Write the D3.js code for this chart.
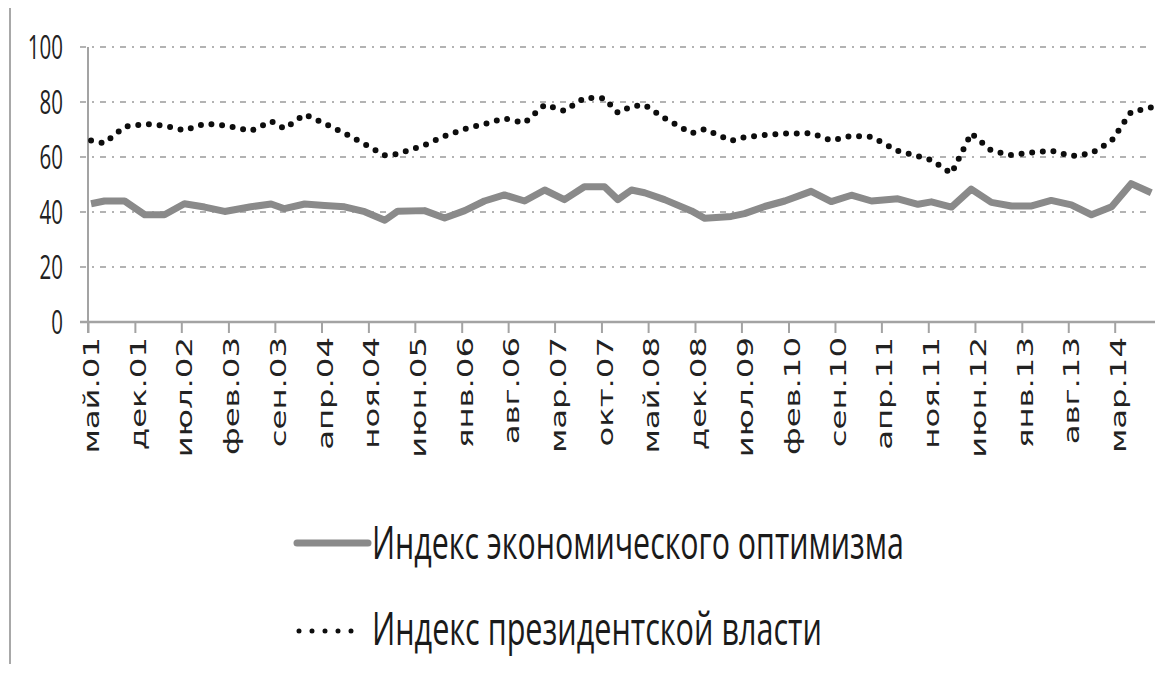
<!DOCTYPE html>
<html>
<head>
<meta charset="utf-8">
<script src="https://cdn.jsdelivr.net/npm/d3@7"></script>
<style>
  html, body { margin: 0; padding: 0; background: #ffffff; }
  svg { display: block; }
</style>
</head>
<body>
<svg id="chart" width="1169" height="675"></svg>
<script>
// ---- data ----
const dates = ["2001-05","2001-07","2001-10","2002-01","2002-04","2002-07","2002-10","2003-01","2003-05","2003-08",
  "2003-10","2004-01","2004-04","2004-07","2004-10","2005-01","2005-03","2005-07","2005-10","2006-01",
  "2006-04","2006-07","2006-10","2007-01","2007-04","2007-07","2007-10","2007-12","2008-02","2008-04",
  "2008-07","2008-11","2009-01","2009-05","2009-07","2009-10","2010-01","2010-05","2010-08","2010-11",
  "2011-02","2011-06","2011-09","2011-11","2012-02","2012-05","2012-08","2012-11","2013-02","2013-05",
  "2013-08","2013-11","2014-02","2014-05","2014-08"];
const econIndex = [43,44,44,39,39,43,41.8,40.2,41.9,42.9,
  41.2,42.9,42.4,41.9,40.1,37,40.3,40.5,37.8,40.5,
  44,46.2,44,48,44.5,49.2,49.2,44.5,48,47,
  44.5,40.4,37.7,38.4,39.4,42,44,47.5,43.8,46.1,
  44,44.8,42.8,43.7,41.8,48.3,43.5,42.2,42.2,44.2,
  42.6,39,41.9,50.3,47];
const presIndex = [66,65,71,72,71.4,69.7,72.1,71.5,69.5,73,
  70.3,75.5,72.2,68.6,64.7,60.6,61.1,64.3,67.6,70.2,
  72,74,72.4,79,76.8,81.5,81.3,76.1,78.4,78.9,
  74.1,68.6,70.1,65.9,67.2,68,68.5,68.7,66,67.7,
  67.3,62.2,60.3,58.9,54,68.6,62.3,60.7,61.6,62.3,
  60.3,61.3,65.9,76.4,78];
const yTicks = [0,20,40,60,80,100];
const xTickLabels = ["май.01","дек.01","июл.02","фев.03","сен.03","апр.04","ноя.04","июн.05","янв.06","авг.06",
  "мар.07","окт.07","май.08","дек.08","июл.09","фев.10","сен.10","апр.11","ноя.11","июн.12",
  "янв.13","авг.13","мар.14"];
const seriesNames = ["Индекс экономического оптимизма","Индекс президентской власти"];
const xStart = "2001-05", xEnd = "2014-09", tickStepMonths = 7;

// ---- setup ----
const svg = d3.select("#chart");
const parseMonth = d3.timeParse("%Y-%m");
const mid = s => d3.timeDay.offset(parseMonth(s), 14);

const x = d3.scaleTime().domain([parseMonth(xStart), parseMonth(xEnd)]).range([88, 1155]);
const y = d3.scaleLinear().domain([0, 100]).range([322, 47]);

const gridColor = "#b3b3b3", axisColor = "#a3a3a3";

// frame line on the left
svg.append("line").attr("x1", 10).attr("x2", 10).attr("y1", 8).attr("y2", 664)
  .attr("stroke", "#a8a8a8").attr("stroke-width", 2);

// gridlines (dash-dot)
svg.append("g").selectAll("line").data(yTicks.filter(v => v > 0)).join("line")
  .attr("x1", 80).attr("x2", 1152)
  .attr("y1", d => y(d)).attr("y2", d => y(d))
  .attr("stroke", gridColor).attr("stroke-width", 2)
  .attr("stroke-dasharray", "6 6 2 6");

// y axis
const yAxis = svg.append("g").attr("transform", "translate(88,0)")
  .call(d3.axisLeft(y).tickValues(yTicks).tickSize(0).tickFormat(d3.format("d")));
yAxis.select(".domain").remove();
yAxis.append("line").attr("x1", 0).attr("x2", 0).attr("y1", y(100)).attr("y2", 333)
  .attr("stroke", axisColor).attr("stroke-width", 2);
yAxis.selectAll(".tick text")
  .attr("x", 0).attr("dy", "0.36em")
  .attr("transform", "translate(-25,0) scale(0.64,1)")
  .attr("text-anchor", "end")
  .attr("fill", "#222")
  .style("font-family", "'Open Sans', 'Noto Sans', sans-serif")
  .style("font-size", "32px");

// x axis
const tickDates = xTickLabels.map((l, i) => d3.timeMonth.offset(parseMonth(xStart), i * tickStepMonths));
const xAxis = svg.append("g").attr("transform", `translate(0,${y(0)})`)
  .call(d3.axisBottom(x).tickValues(tickDates).tickSize(11).tickFormat((d, i) => xTickLabels[i]));
xAxis.select(".domain").remove();
xAxis.append("line").attr("x1", 80).attr("x2", 1155).attr("y1", 0).attr("y2", 0)
  .attr("stroke", axisColor).attr("stroke-width", 2.5);
xAxis.selectAll(".tick line").attr("stroke", axisColor).attr("stroke-width", 2);
xAxis.selectAll(".tick text")
  .attr("y", 0).attr("x", 0).attr("dy", "0.36em")
  .attr("transform", "translate(3,15) scale(1,1.54) rotate(-90)")
  .attr("text-anchor", "end")
  .attr("fill", "#222")
  .style("font-family", "'DejaVu Sans', Verdana, sans-serif")
  .style("font-size", "21px");

// series
const econData = dates.map((d, i) => ({ date: mid(d), value: econIndex[i] }));
const presData = dates.map((d, i) => ({ date: mid(d), value: presIndex[i] }));
const line = d3.line().x(d => x(d.date)).y(d => y(d.value));

svg.append("path").datum(econData).attr("d", line)
  .attr("fill", "none").attr("stroke", "#8a8a8a").attr("stroke-width", 7)
  .attr("stroke-linejoin", "round");

svg.append("path").datum(presData).attr("d", line)
  .attr("fill", "none").attr("stroke", "#0d0d0d").attr("stroke-width", 6)
  .attr("stroke-linecap", "round").attr("stroke-dasharray", "0 10.7");

// legend
const lg = svg.append("g").style("font-family", "'Open Sans', 'Noto Sans', sans-serif");
lg.append("line").attr("x1", 297).attr("x2", 368).attr("y1", 543).attr("y2", 543)
  .attr("stroke", "#8a8a8a").attr("stroke-width", 7).attr("stroke-linecap", "round");
lg.append("line").attr("x1", 299).attr("x2", 364).attr("y1", 631).attr("y2", 631)
  .attr("stroke", "#0d0d0d").attr("stroke-width", 5)
  .attr("stroke-linecap", "round").attr("stroke-dasharray", "0 13");

function fitText(txt, x0, yBase, width) {
  const t = lg.append("text").attr("x", 0).attr("y", 0).text(txt)
    .attr("fill", "#1a1a1a").style("font-size", "46px");
  const w = t.node().getComputedTextLength();
  t.attr("transform", `translate(${x0},${yBase}) scale(${width / w},1)`);
}
fitText(seriesNames[0], 372, 559, 532);
fitText(seriesNames[1], 372, 645, 450);
</script>
</body>
</html>
